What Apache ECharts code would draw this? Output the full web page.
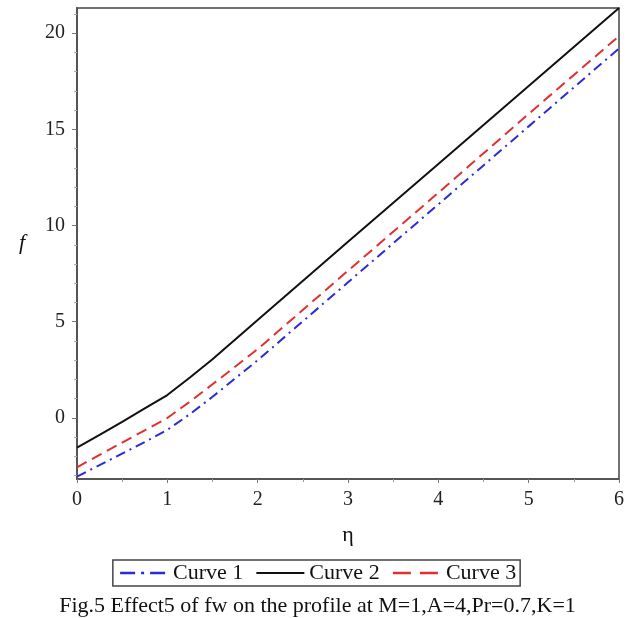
<!DOCTYPE html>
<html>
<head>
<meta charset="utf-8">
<script src="https://cdn.jsdelivr.net/npm/echarts@6/dist/echarts.min.js"></script>
<style>html,body{margin:0;padding:0;background:#fff}#c{width:635px;height:618px}</style>
</head>
<body>
<div id="c"></div>
<script>
var eta = [0, 0.25, 0.5, 0.75, 1, 1.25, 1.5, 2, 3, 4, 5, 6];
var curve1 = [-3.05, -2.45, -1.85, -1.25, -0.62, 0.2, 1.1, 3.0, 7.05, 11.1, 15.15, 19.2];
var curve2 = [-1.54, -0.88, -0.2, 0.5, 1.19, 2.1, 3.05, 5.09, 9.15, 13.2, 17.25, 21.3];
var curve3 = [-2.56, -1.92, -1.28, -0.64, 0.0, 0.85, 1.75, 3.58, 7.65, 11.7, 15.8, 19.84];
var names = ['Curve 1', 'Curve 2', 'Curve 3'];
var yTicks = [0, 5, 10, 15, 20];
var yMinor = [-3, -2, -1, 1, 2, 3, 4, 6, 7, 8, 9, 11, 12, 13, 14, 16, 17, 18, 19, 21];
var yMin = -3.17, yMax = 21.3;
var caption = 'Fig.5 Effect5 of fw on the profile at M=1,A=4,Pr=0.7,K=1';

function pts(ys){ return eta.map(function(x,i){ return [x, ys[i]]; }); }
var font = 'Liberation Serif';
var chart = echarts.init(document.getElementById('c'));
chart.setOption({
  animation: false,
  textStyle: {fontFamily: font},
  title: {
    text: caption, left: 'center', top: 590,
    textStyle: {fontFamily: font, fontSize: 22, fontWeight: 'normal', color: '#111'}
  },
  legend: {
    data: [
      {name: names[0], lineStyle: {type: [15, 6, 3, 6], width: 2.5}},
      {name: names[1], lineStyle: {width: 2}},
      {name: names[2], lineStyle: {type: [18, 9], width: 2.5}}
    ],
    left: 'center', top: 560,
    itemWidth: 48, itemHeight: 14, itemGap: 12,
    padding: [2, 4, 2, 6],
    borderColor: '#444', borderWidth: 1.5,
    itemStyle: {opacity: 0},
    textStyle: {fontFamily: font, fontSize: 22, color: '#111'}
  },
  grid: {left: 77, right: 16, top: 8, bottom: 139, show: true, borderColor: '#444', borderWidth: 1.5},
  xAxis: {
    type: 'value', min: 0, max: 6, interval: 1,
    name: 'η', nameLocation: 'middle', nameGap: 45,
    nameTextStyle: {fontFamily: font, fontSize: 22, color: '#111'},
    axisLine: {show: true, onZero: false, lineStyle: {color: '#555', width: 2}},
    axisTick: {show: true, inside: false, length: 4, lineStyle: {color: '#777'}},
    minorTick: {show: true, splitNumber: 2, length: 3, lineStyle: {color: '#999'}},
    axisLabel: {fontFamily: font, fontSize: 20, color: '#222', margin: 11},
    splitLine: {show: false}
  },
  yAxis: [{
    type: 'value', min: yMin, max: yMax,
    name: 'f', nameLocation: 'middle', nameGap: 52, nameRotate: 0,
    nameTextStyle: {fontFamily: font, fontSize: 22, fontStyle: 'italic', color: '#111'},
    axisLine: {show: true, onZero: false, lineStyle: {color: '#555', width: 2}},
    axisTick: {show: true, length: 5, customValues: yTicks, lineStyle: {color: '#777'}},
    axisLabel: {customValues: yTicks, fontFamily: font, fontSize: 20, color: '#222', margin: 12},
    splitLine: {show: false}
  }, {
    type: 'value', min: yMin, max: yMax, position: 'left',
    axisLine: {show: false},
    axisTick: {show: true, length: 3, customValues: yMinor, lineStyle: {color: '#aaa'}},
    axisLabel: {show: false},
    splitLine: {show: false}
  }],
  series: [
    {name: names[0], type: 'line', symbol: 'none', data: pts(curve1),
     lineStyle: {color: '#2b2bd6', width: 2, type: [10, 5, 2, 5]}, itemStyle: {color: '#2b2bd6'}},
    {name: names[1], type: 'line', symbol: 'none', data: pts(curve2),
     lineStyle: {color: '#111', width: 2, type: 'solid'}, itemStyle: {color: '#111'}},
    {name: names[2], type: 'line', symbol: 'none', data: pts(curve3),
     lineStyle: {color: '#e03030', width: 2, type: [11, 6]}, itemStyle: {color: '#e03030'}}
  ]
});
</script>
</body>
</html>
